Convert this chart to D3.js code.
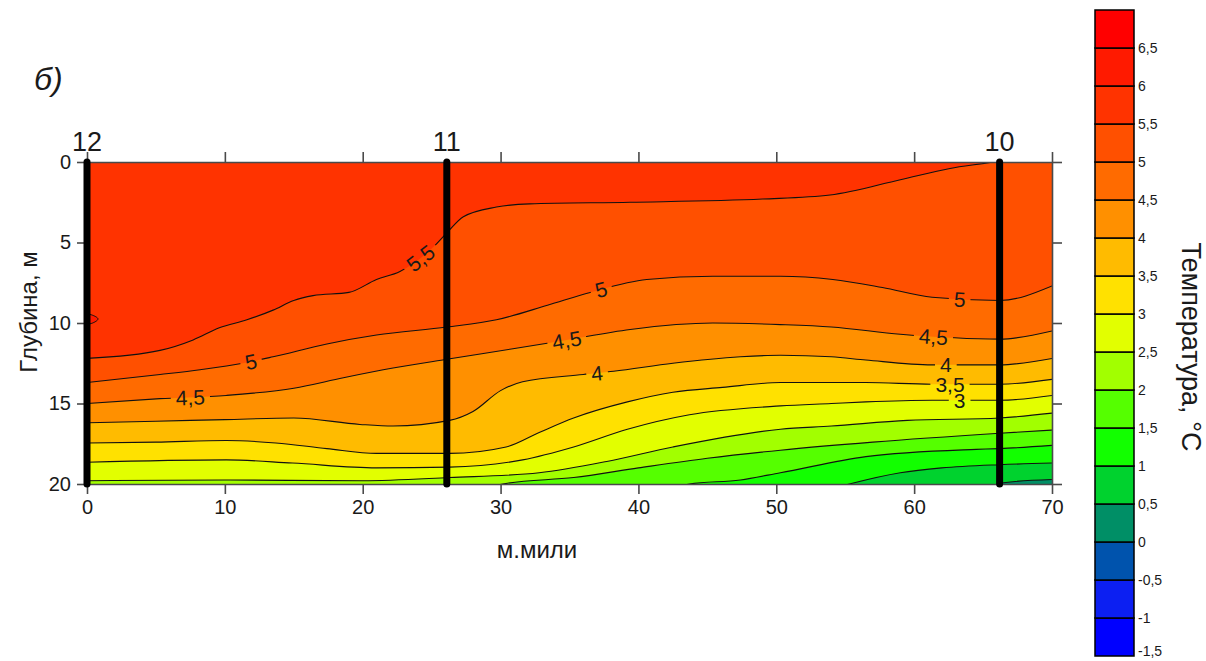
<!DOCTYPE html>
<html><head><meta charset="utf-8">
<script src="https://cdn.jsdelivr.net/npm/d3@7"></script>
<style>
html,body{margin:0;padding:0;background:#fff;}
text{font-family:"Liberation Sans",Arial,sans-serif;fill:#1a1a1a;}
</style></head>
<body>
<svg id="chart" width="1206" height="661"></svg>
<script>
// ---------- data ----------
// colour bar levels and band colours (band i spans levels[i]..levels[i+1])
const levels = [-1.5,-1,-0.5,0,0.5,1,1.5,2,2.5,3,3.5,4,4.5,5,5.5,6,6.5,7];
const bandColors = ["#0000ff","#0c1ff2","#0053ad","#008f66","#00d22e","#12ff00","#55ff00",
  "#a2ff00","#e2ff00","#ffe100","#ffbb00","#ff9000","#ff6b00","#ff5000","#ff3300","#ff1a00","#ff0000"];
const colorTicks = [-1.5,-1,-0.5,0,0.5,1,1.5,2,2.5,3,3.5,4,4.5,5,5.5,6,6.5];

// isotherms: [distance, nautical miles ; depth, m]
const iso55 = [[0,12.2],[5.3,11.7],[7.7,11.05],[9.6,10.3],[11.6,9.8],[13.5,9.2],[15,8.6],[16.4,8.3],[19,8.1],[21,7.3],[22.7,6.8],[25.1,5.3],[26.1,4.4],[27.3,3.4],[29.7,2.8],[32.1,2.6],[39.4,2.5],[49,2.3],[53.9,2.05],[59,1.1],[62.6,0.4],[65.7,0],[70,-0.8]];
const iso50 = [[0,13.7],[5.3,13.2],[8.2,12.9],[11.3,12.5],[13.5,12.1],[17.4,11.3],[21,10.75],[26.1,10.25],[29.7,9.8],[33.4,8.9],[36.5,8.1],[40.6,7.3],[45.4,7.1],[50.3,7.1],[54.1,7.3],[57.7,7.8],[61.3,8.4],[66.2,8.6],[70,7.7]];
const iso45 = [[0,15.0],[5.3,14.7],[10.1,14.5],[15,14.05],[18.6,13.4],[22.2,12.8],[26.1,12.25],[30.9,11.6],[34.5,11.1],[39.4,10.4],[45.4,10.0],[50.3,10.1],[54,10.25],[59,10.7],[66.2,11.0],[70,10.5]];
const iso40 = [[0,16.2],[5,16.1],[10,16.0],[15,15.9],[19.8,16.3],[22.2,16.4],[26.3,16.05],[28,15.5],[30,14.2],[31.6,13.65],[36,13.2],[38.2,13.0],[42.5,12.5],[47.4,12.1],[50.3,12.0],[54,12.1],[56.5,12.3],[61.3,12.6],[66.2,12.6],[70,12.2]];
const iso35 = [[0,17.45],[5,17.4],[10.1,17.3],[13.7,17.45],[17.4,17.8],[21,18.1],[26.3,18.1],[30.4,17.7],[32.8,16.8],[35.3,15.9],[39.2,14.9],[42.5,14.3],[46.1,14.0],[50.3,13.7],[56.5,13.7],[61.3,13.8],[66.2,13.8],[70,13.5]];
const iso30 = [[0,18.65],[10.1,18.5],[14.9,18.7],[21,19.0],[26.3,18.95],[31.6,18.5],[35.3,17.7],[39.2,16.6],[43.7,15.7],[50.3,15.15],[54,15.0],[56.5,14.9],[61.3,14.8],[66.2,14.8],[70,14.5]];
const iso25 = [[0,19.8],[10,19.75],[20,19.8],[26.3,19.6],[32.8,19.3],[37.7,18.6],[42.5,17.7],[50.3,16.6],[54,16.4],[59.5,16.05],[66.2,15.9],[70,15.6]];
const iso20 = [[28.5,20.3],[30.5,19.95],[35.3,19.6],[40,19.0],[45,18.4],[50.3,17.9],[57,17.4],[66.2,16.85],[70,16.65]];
const iso15 = [[42.5,20.3],[43.7,20.0],[47.4,19.75],[50.3,19.3],[56.5,18.3],[64.5,17.85],[66.2,17.8],[70,17.6]];
const iso10 = [[54,20.3],[55.3,20.0],[59,19.3],[62,19.0],[66.2,18.8],[70,18.7]];
const iso05 = [[65,20.3],[66.5,19.92],[70,19.72]];
const iso60pocket = [[-0.4,9.45],[0.35,9.5],[0.8,9.75],[0.35,10.02],[-0.4,10.05]];

const isoLevels = [5.5,5,4.5,4,3.5,3,2.5,2,1.5,1,0.5];
const isoLines  = [iso55,iso50,iso45,iso40,iso35,iso30,iso25,iso20,iso15,iso10,iso05];

// contour labels: level and distance (miles) where the label sits
const labelLevels = [5.5,5,4.5,5,4.5,4,5,4.5,4,3.5,3];
const labelMiles  = [24.2,11.9,7.5,37.3,34.8,37.0,63.3,61.4,62.3,62.6,63.3];

// stations
const stationNames = ["12","11","10"];
const stationMiles = [0,26.1,66.2];

const xTicks = [0,10,20,30,40,50,60,70];
const depthTicks = [0,5,10,15,20];

// ---------- drawing ----------
const svg = d3.select("#chart");
const x = d3.scaleLinear().domain([0,70]).range([87,1052]);
const y = d3.scaleLinear().domain([0,20]).range([162,484]);
const fmt = v => String(v).replace(".", ",");
const bandColorBelow = L => bandColors[levels.indexOf(L) - 1];

const defs = svg.append("defs");
defs.append("clipPath").attr("id","plotClip").append("rect")
  .attr("x",x(0)).attr("y",y(0)).attr("width",x(70)-x(0)).attr("height",y(20)-y(0));

const plot = svg.append("g").attr("clip-path","url(#plotClip)");
// background = band 5.5..6
plot.append("rect").attr("x",x(0)).attr("y",y(0)).attr("width",x(70)-x(0)).attr("height",y(20)-y(0))
  .attr("fill", bandColorBelow(6));

const area = d3.area().x(d=>x(d[0])).y0(d=>y(d[1])).y1(y(21)).curve(d3.curveMonotoneX);
const line = d3.line().x(d=>x(d[0])).y(d=>y(d[1])).curve(d3.curveMonotoneX);

isoLevels.forEach((L,i)=>{
  plot.append("path").attr("d",area(isoLines[i])).attr("fill",bandColorBelow(L));
});
// warm pocket (> 6 °C)
const closed = d3.line().x(d=>x(d[0])).y(d=>y(d[1])).curve(d3.curveCatmullRomClosed);
plot.append("path").attr("d",closed(iso60pocket)).attr("fill",bandColorBelow(6.5))
  .attr("stroke","#111").attr("stroke-width",1);

// mask for label gaps
const mask = defs.append("mask").attr("id","labelMask").attr("maskUnits","userSpaceOnUse")
  .attr("x",0).attr("y",0).attr("width",1206).attr("height",661);
mask.append("rect").attr("x",0).attr("y",0).attr("width",1206).attr("height",661).attr("fill","#fff");

const linesG = plot.append("g").attr("mask","url(#labelMask)");
const paths = isoLines.map(pts =>
  linesG.append("path").attr("d",line(pts)).attr("fill","none").attr("stroke","#111").attr("stroke-width",1.1).node());

function pointAtX(pathNode, px){
  const total = pathNode.getTotalLength();
  let lo=0, hi=total;
  for(let k=0;k<40;k++){
    const mid=(lo+hi)/2; const p=pathNode.getPointAtLength(mid);
    if(p.x<px) lo=mid; else hi=mid;
  }
  const l=(lo+hi)/2;
  const p=pathNode.getPointAtLength(l);
  const a=pathNode.getPointAtLength(Math.max(0,l-6)), b=pathNode.getPointAtLength(Math.min(total,l+6));
  return {x:p.x,y:p.y,angle:Math.atan2(b.y-a.y,b.x-a.x)*180/Math.PI};
}

const labelG = svg.append("g");
const labelFont = 21;
labelLevels.forEach((L,i)=>{
  const node = paths[isoLevels.indexOf(L)];
  const p = pointAtX(node, x(labelMiles[i]));
  const t = labelG.append("text").attr("transform",`translate(${p.x},${p.y}) rotate(${p.angle})`)
    .attr("text-anchor","middle").attr("dy","0.36em").attr("font-size",labelFont).text(fmt(L));
  const w = t.node().getComputedTextLength();
  mask.append("rect").attr("x",-w/2-5).attr("y",-labelFont*0.42).attr("width",w+10).attr("height",labelFont*0.84)
    .attr("transform",`translate(${p.x},${p.y}) rotate(${p.angle})`).attr("fill","#000");
});

// axes
const axisColor="#4a4a4a";
function styleAxis(g){ g.selectAll("path,line").attr("stroke",axisColor).attr("stroke-width",1.6); }
svg.append("g").attr("transform",`translate(0,${y(20)})`)
  .call(d3.axisBottom(x).tickValues(xTicks).tickSize(10).tickSizeOuter(0).tickPadding(6))
  .call(styleAxis).call(g=>g.selectAll("text").attr("font-size",20).attr("fill","#1a1a1a").attr("font-family","Liberation Sans, Arial"));
svg.append("g").attr("transform",`translate(0,${y(0)})`)
  .call(d3.axisTop(x).tickValues(xTicks).tickSize(10).tickSizeOuter(0).tickFormat(""))
  .call(styleAxis);
svg.append("g").attr("transform",`translate(${x(0)},0)`)
  .call(d3.axisLeft(y).tickValues(depthTicks).tickSize(10).tickSizeOuter(0).tickPadding(6))
  .call(styleAxis).call(g=>g.selectAll("text").attr("font-size",20).attr("fill","#1a1a1a").attr("font-family","Liberation Sans, Arial"));
svg.append("g").attr("transform",`translate(${x(70)},0)`)
  .call(d3.axisRight(y).tickValues(depthTicks).tickSize(10).tickSizeOuter(0).tickFormat(""))
  .call(styleAxis);
svg.selectAll(".domain").attr("stroke",axisColor);

// station verticals
stationMiles.forEach((m,i)=>{
  svg.append("line").attr("x1",x(m)).attr("x2",x(m)).attr("y1",y(0)).attr("y2",y(20))
    .attr("stroke","#000").attr("stroke-width",7).attr("stroke-linecap","round");
  svg.append("text").attr("x",x(m)).attr("y",151).attr("text-anchor","middle")
    .attr("font-size",27).text(stationNames[i]);
});

// axis titles
svg.append("text").attr("transform",`translate(37,312) rotate(-90)`).attr("text-anchor","middle")
  .attr("font-size",24).text("Глубина, м");
svg.append("text").attr("x",537).attr("y",558).attr("text-anchor","middle")
  .attr("font-size",24).text("м.мили");
svg.append("text").attr("x",34).attr("y",90).attr("font-size",32)
  .attr("font-family","Liberation Serif, Times New Roman, serif").attr("font-style","italic").text("б)");

// colour bar
const cb = d3.scaleLinear().domain([-1.5,7]).range([656,10]);
const cbX=1095, cbW=39;
const cbG = svg.append("g");
bandColors.forEach((c,i)=>{
  cbG.append("rect").attr("x",cbX).attr("y",cb(levels[i+1])).attr("width",cbW)
    .attr("height",cb(levels[i])-cb(levels[i+1])).attr("fill",c)
    .attr("stroke","#000").attr("stroke-width",1.5);
});
colorTicks.forEach(v=>{
  cbG.append("text").attr("x",cbX+cbW+4).attr("y",Math.min(cb(v),651)).attr("dy","0.36em")
    .attr("font-size",14).text(fmt(v));
});
svg.append("text").attr("transform",`translate(1182,347) rotate(90)`).attr("text-anchor","middle")
  .attr("font-size",27).text("Температура, °C");
</script>
</body></html>
